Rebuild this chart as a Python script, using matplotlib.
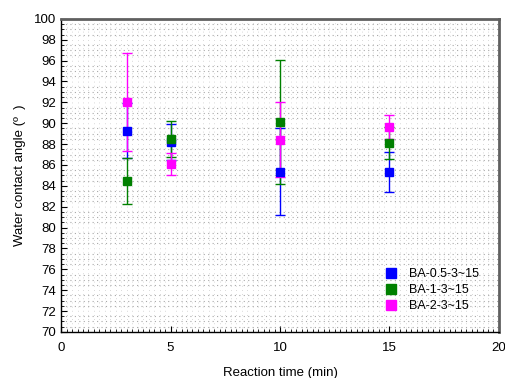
import numpy as np
import matplotlib.pyplot as plt
from matplotlib.ticker import MultipleLocator
from matplotlib.lines import Line2D

plt.rcParams['font.family'] = ['Liberation Sans', 'DejaVu Sans']

# data
times = [3, 5, 10, 15]
ba05 = [89.3, 88.2, 85.35, 85.35]
ba05_err = [2.6, 1.7, 4.15, 1.9]
ba1 = [84.5, 88.5, 90.1, 88.1]
ba1_err = [2.2, 1.75, 5.95, 1.5]
ba2 = [92.05, 86.1, 88.4, 89.6]
ba2_err = [4.7, 1.05, 3.6, 1.15]
labels = ['BA-0.5-3~15', 'BA-1-3~15', 'BA-2-3~15']
colors = ['#0000ff', '#008000', '#ff00ff']

fig = plt.figure(figsize=(5.05, 3.78), dpi=100)
ax = fig.add_axes([0.121, 0.122, 0.867, 0.828])

handles = []
for y, e, lab, c in zip([ba05, ba1, ba2], [ba05_err, ba1_err, ba2_err], labels, colors):
    ax.errorbar(times, y, yerr=e, fmt='s', color=c, ecolor=c, markersize=6,
                elinewidth=1, capsize=3.5, capthick=1)
    handles.append(Line2D([], [], marker='s', linestyle='none', color=c,
                          markersize=6.5, label=lab))

ax.set_xlim(0, 20)
ax.set_ylim(70, 100)
ax.xaxis.set_major_locator(MultipleLocator(5))
ax.yaxis.set_major_locator(MultipleLocator(2))
ax.yaxis.set_minor_locator(MultipleLocator(0.5))
ax.xaxis.set_minor_locator(MultipleLocator(0.25))
ax.tick_params(which='both', direction='in', labelsize=9.5)
ax.tick_params(axis='x', which='minor', length=0)
ax.tick_params(axis='x', which='major', pad=7)
ax.tick_params(which='major', length=4)
ax.tick_params(which='minor', length=2)
ax.grid(which='minor', axis='y', color='#a8a8a8', linestyle=(0, (1, 3)), linewidth=0.8)
ax.grid(which='minor', axis='x', color='#cccccc', linestyle=(0, (1, 4)), linewidth=0.6)
ax.set_axisbelow(True)

for s in ['top', 'right']:
    ax.spines[s].set_color('#606060')
    ax.spines[s].set_linewidth(2)
for s in ['left', 'bottom']:
    ax.spines[s].set_color('black')
    ax.spines[s].set_linewidth(1)

ax.set_xlabel('Reaction time (min)', fontsize=9.5, labelpad=10)
ax.set_ylabel('Water contact angle (º  )', fontsize=9.5, labelpad=6)

ax.legend(handles=handles, loc='lower right', frameon=False, fontsize=9,
          handletextpad=0.8, borderaxespad=1.2, labelspacing=0.3, handlelength=1.2)

fig.savefig('out.png', dpi=100)
